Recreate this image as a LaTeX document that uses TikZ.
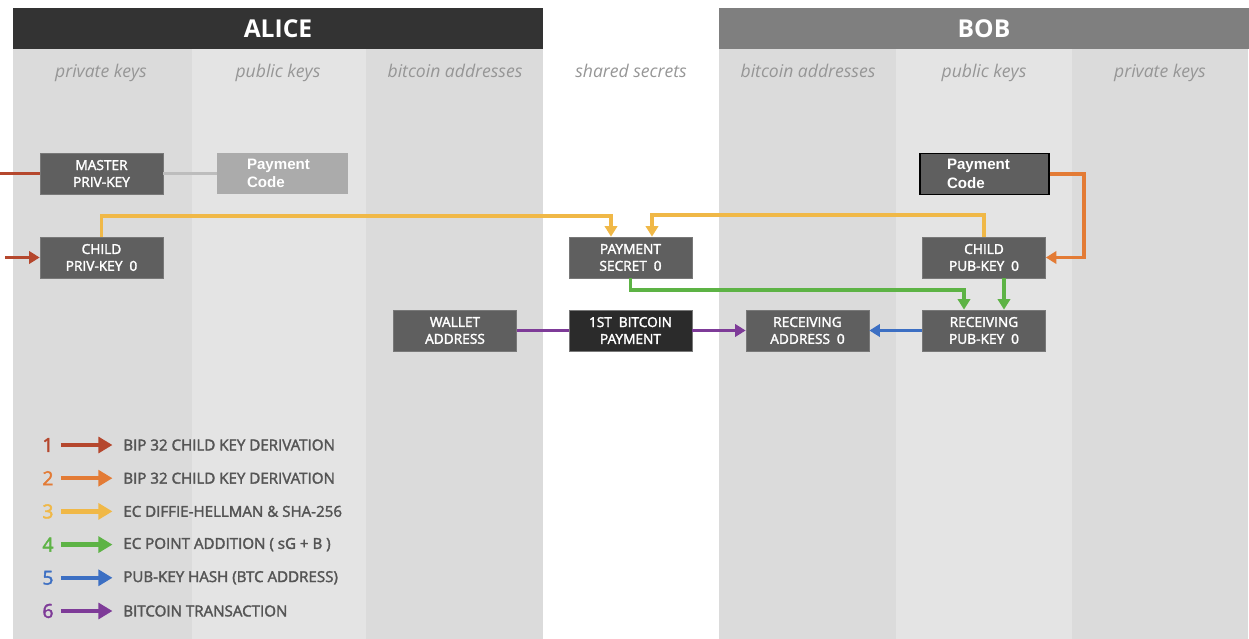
\documentclass[tikz,border=0pt]{standalone}
\usepackage{fontspec}
\setmainfont{Open Sans}
\newfontfamily\codefont{Liberation Sans}
\newfontfamily\semifont[BoldFont={Open Sans}, BoldFeatures={FakeBold=2.2}]{Open Sans}
\usetikzlibrary{positioning, arrows.meta, calc}
\definecolor{AliceColor}{RGB}{51,51,51}
\definecolor{BobColor}{RGB}{127,127,127}
\definecolor{ColDark}{RGB}{219,219,219}
\definecolor{ColLight}{RGB}{228,228,228}
\definecolor{BoxColor}{RGB}{95,95,95}
\definecolor{BoxEdge}{RGB}{120,120,120}
\definecolor{TxBoxColor}{RGB}{43,43,43}
\definecolor{CodeColor}{RGB}{171,171,171}
\definecolor{LabelColor}{RGB}{150,150,150}
\definecolor{LegendColor}{RGB}{85,85,85}
\definecolor{DerivRed}{RGB}{181,71,45}
\definecolor{DerivOrange}{RGB}{227,123,53}
\definecolor{EcdhYellow}{RGB}{240,184,71}
\definecolor{AddGreen}{RGB}{93,179,69}
\definecolor{HashBlue}{RGB}{60,111,195}
\definecolor{TxPurple}{RGB}{126,59,152}
\definecolor{LinkGray}{RGB}{189,189,189}
\tikzstyle{keybox} = [rectangle, fill=BoxColor, draw=BoxEdge, thin, minimum width=2.46cm, minimum height=0.82cm, inner sep=0pt, align=center, text=white, font=\semifont\bfseries\fontsize{7.8}{9.6}\selectfont]
\tikzstyle{codebox} = [rectangle, minimum width=2.62cm, minimum height=0.82cm, inner xsep=0.6cm, inner ysep=0pt, text width=1.42cm, align=left, text=white, font=\codefont\bfseries\fontsize{8.6}{10.6}\selectfont]
\tikzstyle{header} = [rectangle, minimum width=10.6cm, minimum height=0.82cm, inner sep=0pt, text=white, font=\bfseries\fontsize{14}{16}\selectfont]
\tikzstyle{colname} = [text=LabelColor, anchor=base, font=\itshape\fontsize{10}{12}\selectfont]
\tikzset{
  link/.style={line width=2.2pt},
  flow/.style={line width=2.2pt, -{Triangle[length=6pt, width=7pt]}},
  legnum/.style={font=\semifont\bfseries\fontsize{11}{12}\selectfont, inner sep=1pt},
  legtext/.style={text=LegendColor, font=\semifont\bfseries\fontsize{8.6}{10}\selectfont, anchor=west, inner sep=0pt},
  legarrow/.style={line width=2.6pt, -{Triangle[length=8pt, width=9pt]}, shorten <=3pt, shorten >=6pt}
}

\begin{document}
\begin{tikzpicture}[x=0.02cm, y=-0.02cm]
  \useasboundingbox (0,0) rectangle (1249,639);
  % Column strips
  \fill[ColDark] (13,49) rectangle (192,639);
  \fill[ColLight] (192,49) rectangle (366,639);
  \fill[ColDark] (366,49) rectangle (543,639);
  \fill[ColDark] (719,49) rectangle (896,639);
  \fill[ColLight] (896,49) rectangle (1072,639);
  \fill[ColDark] (1072,49) rectangle (1248,639);

  % Headers
  \node[header, fill=AliceColor] (alice) at (278,28.5) {ALICE};
  \node[header, fill=BobColor] (bob) at (984,28.5) {BOB};

  \node[colname] (alicepriv) at (101,77) {private keys};
  \node[colname] (alicepub) at (278,77) {public keys};
  \node[colname] (aliceaddr) at (455,77) {bitcoin addresses};
  \node[colname] (shared) at (631,77) {shared secrets};
  \node[colname] (bobaddr) at (808,77) {bitcoin addresses};
  \node[colname] (bobpub) at (984,77) {public keys};
  \node[colname] (bobpriv) at (1160,77) {private keys};

  % Keys and addresses
  \node[keybox] (master) at (101.5,173.5) {MASTER\\PRIV-KEY};
  \node[codebox, fill=CodeColor] (alicecode) at (282.5,173.5) {Payment\\Code};
  \node[keybox] (childpriv) at (101.5,257.5) {CHILD\\PRIV-KEY\enspace0};
  \node[keybox] (secret) at (630.5,257.5) {PAYMENT\\SECRET\enspace0};
  \node[keybox] (wallet) at (455,330.5) {WALLET\\ADDRESS};
  \node[keybox, fill=TxBoxColor] (payment) at (630.5,330.5) {1ST\enspace BITCOIN\\PAYMENT};
  \node[keybox] (recvaddr) at (807.5,330.5) {RECEIVING\\ADDRESS\enspace0};
  \node[codebox, fill=BoxColor, draw=black, thick, minimum width=2.58cm, inner xsep=0.54cm, text width=1.5cm] (bobcode) at (984.5,174) {Payment\\Code};
  \node[keybox] (childpub) at (984,257.5) {CHILD\\PUB-KEY\enspace0};
  \node[keybox] (recvpub) at (984,330.5) {RECEIVING\\PUB-KEY\enspace0};

  % Free ends on the left edge
  \coordinate (redin1) at (0,173.5);
  \coordinate (redin2) at (5,257.5);

  % Connectors
  \draw[link, DerivRed] (redin1) -- (master.west);
  \draw[flow, DerivRed] (redin2) -- (childpriv.west);
  \draw[link, LinkGray] (master.east) -- (alicecode.west);
  \draw[flow, EcdhYellow] (childpriv.north) -- ++(0,-21) -| ([xshift=-0.39cm]secret.north);
  \draw[flow, EcdhYellow] (childpub.north) -- ++(0,-22) -| ([xshift=0.43cm]secret.north);
  \draw[flow, DerivOrange] (bobcode.east) -- ++(34,0) |- (childpub.east);
  \draw[flow, AddGreen] (secret.south) -- ++(0,12) -| ([xshift=-0.4cm]recvpub.north);
  \draw[flow, AddGreen] ([xshift=0.4cm]childpub.south) -- ([xshift=0.4cm]recvpub.north);
  \draw[flow, HashBlue] (recvpub.west) -- (recvaddr.east);
  \draw[link, TxPurple] (wallet.east) -- (payment.west);
  \draw[flow, TxPurple] (payment.east) -- (recvaddr.west);

  % Legend
  \foreach \n/\c/\t [count=\i] in {
      1/DerivRed/BIP 32 CHILD KEY DERIVATION,
      2/DerivOrange/BIP 32 CHILD KEY DERIVATION,
      3/EcdhYellow/EC DIFFIE-HELLMAN \& SHA-256,
      4/AddGreen/EC POINT ADDITION ( sG + B ),
      5/HashBlue/PUB-KEY HASH (BTC ADDRESS),
      6/TxPurple/BITCOIN TRANSACTION} {
    \node[legnum, text=\c] (num\i) at (48,{445+33.2*(\i-1)}) {\n};
    \node[legtext] (leg\i) at (123,{445+33.2*(\i-1)}) {\t};
    \draw[legarrow, \c] (num\i.east) -- (leg\i.west);
  }
\end{tikzpicture}
\end{document}
